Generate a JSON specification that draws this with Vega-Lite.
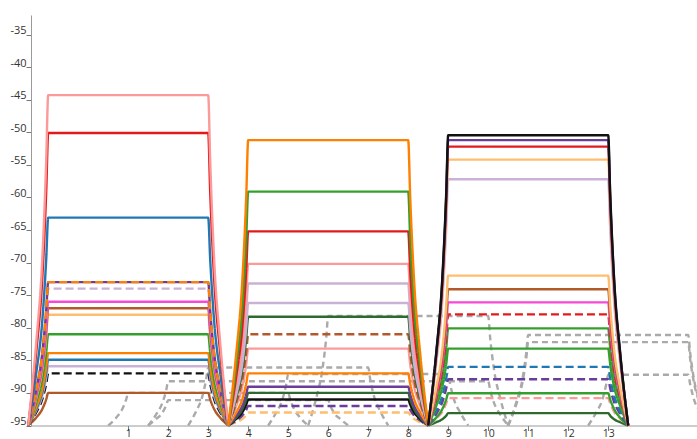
{
  "$schema": "https://vega.github.io/schema/vega-lite/v6.json",
  "width": 666,
  "height": 410.5,
  "autosize": {"type": "none"},
  "padding": {"left": 31, "top": 15, "right": 0, "bottom": 14},
  "background": "white",
  "config": {"view": {"stroke": null}, "font": "Open Sans"},
  "datasets": {
    "series": [
      {"s":"a1","k":"s"},{"s":"a2","k":"s"},{"s":"a3","k":"s"},{"s":"a4","k":"s"},{"s":"a5","k":"d"},{"s":"a6","k":"d"},{"s":"a7","k":"s"},{"s":"a8","k":"s"},{"s":"a9","k":"s"},{"s":"a10","k":"s"},{"s":"a11","k":"s"},{"s":"a12","k":"s"},{"s":"a13","k":"s"},{"s":"a14","k":"d"},{"s":"a15","k":"s"},
      {"s":"b1","k":"s"},{"s":"b2","k":"s"},{"s":"b3","k":"s"},{"s":"b4","k":"s"},{"s":"b5","k":"s"},{"s":"b6","k":"s"},{"s":"b7","k":"s"},{"s":"b8","k":"d"},{"s":"b9","k":"s"},{"s":"b10","k":"s"},{"s":"b11","k":"s"},{"s":"b12","k":"s"},{"s":"b13","k":"s"},{"s":"b14","k":"d"},{"s":"b15","k":"d"},
      {"s":"c1","k":"b"},{"s":"c2","k":"s"},{"s":"c3","k":"s"},{"s":"c4","k":"s"},{"s":"c5","k":"s"},{"s":"c6","k":"s"},{"s":"c7","k":"s"},{"s":"c8","k":"s"},{"s":"c9","k":"d"},{"s":"c10","k":"s"},{"s":"c11","k":"s"},{"s":"c12","k":"d"},{"s":"c13","k":"d"},{"s":"c14","k":"s"},{"s":"c15","k":"d"},{"s":"c16","k":"s"},
      {"s":"gA","k":"g"},{"s":"gB","k":"g"},{"s":"gC","k":"g"},{"s":"gD","k":"g"},{"s":"gE","k":"g"},{"s":"gF","k":"g"},{"s":"gG","k":"g"},{"s":"gH","k":"g"},{"s":"gI","k":"g"}
    ],
    "points": [
      {"s":"a15","x":-1.5,"y":-95},{"s":"a15","x":-1.3,"y":-93.8},{"s":"a15","x":-1.15,"y":-92.5},{"s":"a15","x":-1.05,"y":-91},{"s":"a15","x":-1,"y":-90},{"s":"a15","x":3,"y":-90},{"s":"a15","x":3.05,"y":-91},{"s":"a15","x":3.15,"y":-92.5},{"s":"a15","x":3.3,"y":-93.8},{"s":"a15","x":3.5,"y":-95},
      {"s":"a14","x":-1.5,"y":-95},{"s":"a14","x":-1.3,"y":-93},{"s":"a14","x":-1.15,"y":-91},{"s":"a14","x":-1.05,"y":-88.6},{"s":"a14","x":-1,"y":-87},{"s":"a14","x":3,"y":-87},{"s":"a14","x":3.05,"y":-88.6},{"s":"a14","x":3.15,"y":-91},{"s":"a14","x":3.3,"y":-93},{"s":"a14","x":3.5,"y":-95},
      {"s":"a13","x":-1.5,"y":-95},{"s":"a13","x":-1.3,"y":-92.7},{"s":"a13","x":-1.15,"y":-90.5},{"s":"a13","x":-1.05,"y":-87.7},{"s":"a13","x":-1,"y":-85.9},{"s":"a13","x":3,"y":-85.9},{"s":"a13","x":3.05,"y":-87.7},{"s":"a13","x":3.15,"y":-90.5},{"s":"a13","x":3.3,"y":-92.7},{"s":"a13","x":3.5,"y":-95},
      {"s":"a12","x":-1.5,"y":-95},{"s":"a12","x":-1.3,"y":-92.5},{"s":"a12","x":-1.15,"y":-90},{"s":"a12","x":-1.05,"y":-86.9},{"s":"a12","x":-1,"y":-84.9},{"s":"a12","x":3,"y":-84.9},{"s":"a12","x":3.05,"y":-86.9},{"s":"a12","x":3.15,"y":-90},{"s":"a12","x":3.3,"y":-92.5},{"s":"a12","x":3.5,"y":-95},
      {"s":"a11","x":-1.5,"y":-95},{"s":"a11","x":-1.3,"y":-92.2},{"s":"a11","x":-1.15,"y":-89.5},{"s":"a11","x":-1.05,"y":-86.1},{"s":"a11","x":-1,"y":-83.9},{"s":"a11","x":3,"y":-83.9},{"s":"a11","x":3.05,"y":-86.1},{"s":"a11","x":3.15,"y":-89.5},{"s":"a11","x":3.3,"y":-92.2},{"s":"a11","x":3.5,"y":-95},
      {"s":"a10","x":-1.5,"y":-95},{"s":"a10","x":-1.3,"y":-91.5},{"s":"a10","x":-1.15,"y":-88},{"s":"a10","x":-1.05,"y":-83.8},{"s":"a10","x":-1,"y":-81},{"s":"a10","x":3,"y":-81},{"s":"a10","x":3.05,"y":-83.8},{"s":"a10","x":3.15,"y":-88},{"s":"a10","x":3.3,"y":-91.5},{"s":"a10","x":3.5,"y":-95},
      {"s":"a9","x":-1.5,"y":-95},{"s":"a9","x":-1.3,"y":-90.8},{"s":"a9","x":-1.15,"y":-86.5},{"s":"a9","x":-1.05,"y":-81.4},{"s":"a9","x":-1,"y":-78},{"s":"a9","x":3,"y":-78},{"s":"a9","x":3.05,"y":-81.4},{"s":"a9","x":3.15,"y":-86.5},{"s":"a9","x":3.3,"y":-90.8},{"s":"a9","x":3.5,"y":-95},
      {"s":"a8","x":-1.5,"y":-95},{"s":"a8","x":-1.3,"y":-90.5},{"s":"a8","x":-1.15,"y":-86},{"s":"a8","x":-1.05,"y":-80.6},{"s":"a8","x":-1,"y":-77},{"s":"a8","x":3,"y":-77},{"s":"a8","x":3.05,"y":-80.6},{"s":"a8","x":3.15,"y":-86},{"s":"a8","x":3.3,"y":-90.5},{"s":"a8","x":3.5,"y":-95},
      {"s":"a7","x":-1.5,"y":-95},{"s":"a7","x":-1.3,"y":-90.3},{"s":"a7","x":-1.15,"y":-85.5},{"s":"a7","x":-1.05,"y":-79.8},{"s":"a7","x":-1,"y":-76},{"s":"a7","x":3,"y":-76},{"s":"a7","x":3.05,"y":-79.8},{"s":"a7","x":3.15,"y":-85.5},{"s":"a7","x":3.3,"y":-90.3},{"s":"a7","x":3.5,"y":-95},
      {"s":"a6","x":-1.5,"y":-95},{"s":"a6","x":-1.3,"y":-89.8},{"s":"a6","x":-1.15,"y":-84.5},{"s":"a6","x":-1.05,"y":-78.2},{"s":"a6","x":-1,"y":-74},{"s":"a6","x":3,"y":-74},{"s":"a6","x":3.05,"y":-78.2},{"s":"a6","x":3.15,"y":-84.5},{"s":"a6","x":3.3,"y":-89.8},{"s":"a6","x":3.5,"y":-95},
      {"s":"a4","x":-1.5,"y":-95},{"s":"a4","x":-1.3,"y":-89.5},{"s":"a4","x":-1.15,"y":-84},{"s":"a4","x":-1.05,"y":-77.4},{"s":"a4","x":-1,"y":-73},{"s":"a4","x":3,"y":-73},{"s":"a4","x":3.05,"y":-77.4},{"s":"a4","x":3.15,"y":-84},{"s":"a4","x":3.3,"y":-89.5},{"s":"a4","x":3.5,"y":-95},
      {"s":"a5","x":-1.5,"y":-95},{"s":"a5","x":-1.3,"y":-89.5},{"s":"a5","x":-1.15,"y":-84},{"s":"a5","x":-1.05,"y":-77.4},{"s":"a5","x":-1,"y":-73},{"s":"a5","x":3,"y":-73},{"s":"a5","x":3.05,"y":-77.4},{"s":"a5","x":3.15,"y":-84},{"s":"a5","x":3.3,"y":-89.5},{"s":"a5","x":3.5,"y":-95},
      {"s":"a3","x":-1.5,"y":-95},{"s":"a3","x":-1.3,"y":-87},{"s":"a3","x":-1.15,"y":-79.1},{"s":"a3","x":-1.05,"y":-69.5},{"s":"a3","x":-1,"y":-63.1},{"s":"a3","x":3,"y":-63.1},{"s":"a3","x":3.05,"y":-69.5},{"s":"a3","x":3.15,"y":-79.1},{"s":"a3","x":3.3,"y":-87},{"s":"a3","x":3.5,"y":-95},
      {"s":"a2","x":-1.5,"y":-95},{"s":"a2","x":-1.3,"y":-83.8},{"s":"a2","x":-1.15,"y":-72.6},{"s":"a2","x":-1.05,"y":-59.1},{"s":"a2","x":-1,"y":-50.1},{"s":"a2","x":3,"y":-50.1},{"s":"a2","x":3.05,"y":-59.1},{"s":"a2","x":3.15,"y":-72.6},{"s":"a2","x":3.3,"y":-83.8},{"s":"a2","x":3.5,"y":-95},
      {"s":"a1","x":-1.5,"y":-95},{"s":"a1","x":-1.3,"y":-82.3},{"s":"a1","x":-1.15,"y":-69.7},{"s":"a1","x":-1.05,"y":-54.4},{"s":"a1","x":-1,"y":-44.3},{"s":"a1","x":3,"y":-44.3},{"s":"a1","x":3.05,"y":-54.4},{"s":"a1","x":3.15,"y":-69.7},{"s":"a1","x":3.3,"y":-82.3},{"s":"a1","x":3.5,"y":-95},

      {"s":"b15","x":3.5,"y":-95},{"s":"b15","x":3.7,"y":-94.5},{"s":"b15","x":3.85,"y":-94},{"s":"b15","x":3.95,"y":-93.4},{"s":"b15","x":4,"y":-93},{"s":"b15","x":8,"y":-93},{"s":"b15","x":8.05,"y":-93.4},{"s":"b15","x":8.15,"y":-94},{"s":"b15","x":8.3,"y":-94.5},{"s":"b15","x":8.5,"y":-95},
      {"s":"b14","x":3.5,"y":-95},{"s":"b14","x":3.7,"y":-94.25},{"s":"b14","x":3.85,"y":-93.5},{"s":"b14","x":3.95,"y":-92.6},{"s":"b14","x":4,"y":-92},{"s":"b14","x":8,"y":-92},{"s":"b14","x":8.05,"y":-92.6},{"s":"b14","x":8.15,"y":-93.5},{"s":"b14","x":8.3,"y":-94.25},{"s":"b14","x":8.5,"y":-95},
      {"s":"b13","x":3.5,"y":-95},{"s":"b13","x":3.7,"y":-94},{"s":"b13","x":3.85,"y":-93},{"s":"b13","x":3.95,"y":-91.8},{"s":"b13","x":4,"y":-91},{"s":"b13","x":8,"y":-91},{"s":"b13","x":8.05,"y":-91.8},{"s":"b13","x":8.15,"y":-93},{"s":"b13","x":8.3,"y":-94},{"s":"b13","x":8.5,"y":-95},
      {"s":"b12","x":3.5,"y":-95},{"s":"b12","x":3.7,"y":-93.8},{"s":"b12","x":3.85,"y":-92.5},{"s":"b12","x":3.95,"y":-91},{"s":"b12","x":4,"y":-90},{"s":"b12","x":8,"y":-90},{"s":"b12","x":8.05,"y":-91},{"s":"b12","x":8.15,"y":-92.5},{"s":"b12","x":8.3,"y":-93.8},{"s":"b12","x":8.5,"y":-95},
      {"s":"b11","x":3.5,"y":-95},{"s":"b11","x":3.7,"y":-93.5},{"s":"b11","x":3.85,"y":-92},{"s":"b11","x":3.95,"y":-90.2},{"s":"b11","x":4,"y":-89.05},{"s":"b11","x":8,"y":-89.05},{"s":"b11","x":8.05,"y":-90.2},{"s":"b11","x":8.15,"y":-92},{"s":"b11","x":8.3,"y":-93.5},{"s":"b11","x":8.5,"y":-95},
      {"s":"b10","x":3.5,"y":-95},{"s":"b10","x":3.7,"y":-93},{"s":"b10","x":3.85,"y":-91},{"s":"b10","x":3.95,"y":-88.6},{"s":"b10","x":4,"y":-87},{"s":"b10","x":8,"y":-87},{"s":"b10","x":8.05,"y":-88.6},{"s":"b10","x":8.15,"y":-91},{"s":"b10","x":8.3,"y":-93},{"s":"b10","x":8.5,"y":-95},
      {"s":"b9","x":3.5,"y":-95},{"s":"b9","x":3.7,"y":-92},{"s":"b9","x":3.85,"y":-89.1},{"s":"b9","x":3.95,"y":-85.6},{"s":"b9","x":4,"y":-83.2},{"s":"b9","x":8,"y":-83.2},{"s":"b9","x":8.05,"y":-85.6},{"s":"b9","x":8.15,"y":-89.1},{"s":"b9","x":8.3,"y":-92},{"s":"b9","x":8.5,"y":-95},
      {"s":"b8","x":3.5,"y":-95},{"s":"b8","x":3.7,"y":-91.5},{"s":"b8","x":3.85,"y":-88},{"s":"b8","x":3.95,"y":-83.8},{"s":"b8","x":4,"y":-81},{"s":"b8","x":8,"y":-81},{"s":"b8","x":8.05,"y":-83.8},{"s":"b8","x":8.15,"y":-88},{"s":"b8","x":8.3,"y":-91.5},{"s":"b8","x":8.5,"y":-95},
      {"s":"b7","x":3.5,"y":-95},{"s":"b7","x":3.7,"y":-90.8},{"s":"b7","x":3.85,"y":-86.6},{"s":"b7","x":3.95,"y":-81.6},{"s":"b7","x":4,"y":-78.3},{"s":"b7","x":8,"y":-78.3},{"s":"b7","x":8.05,"y":-81.6},{"s":"b7","x":8.15,"y":-86.6},{"s":"b7","x":8.3,"y":-90.8},{"s":"b7","x":8.5,"y":-95},
      {"s":"b6","x":3.5,"y":-95},{"s":"b6","x":3.7,"y":-90.3},{"s":"b6","x":3.85,"y":-85.6},{"s":"b6","x":3.95,"y":-80},{"s":"b6","x":4,"y":-76.2},{"s":"b6","x":8,"y":-76.2},{"s":"b6","x":8.05,"y":-80},{"s":"b6","x":8.15,"y":-85.6},{"s":"b6","x":8.3,"y":-90.3},{"s":"b6","x":8.5,"y":-95},
      {"s":"b5","x":3.5,"y":-95},{"s":"b5","x":3.7,"y":-89.5},{"s":"b5","x":3.85,"y":-84.1},{"s":"b5","x":3.95,"y":-77.6},{"s":"b5","x":4,"y":-73.2},{"s":"b5","x":8,"y":-73.2},{"s":"b5","x":8.05,"y":-77.6},{"s":"b5","x":8.15,"y":-84.1},{"s":"b5","x":8.3,"y":-89.5},{"s":"b5","x":8.5,"y":-95},
      {"s":"b4","x":3.5,"y":-95},{"s":"b4","x":3.7,"y":-88.8},{"s":"b4","x":3.85,"y":-82.6},{"s":"b4","x":3.95,"y":-75.2},{"s":"b4","x":4,"y":-70.2},{"s":"b4","x":8,"y":-70.2},{"s":"b4","x":8.05,"y":-75.2},{"s":"b4","x":8.15,"y":-82.6},{"s":"b4","x":8.3,"y":-88.8},{"s":"b4","x":8.5,"y":-95},
      {"s":"b3","x":3.5,"y":-95},{"s":"b3","x":3.7,"y":-87.5},{"s":"b3","x":3.85,"y":-80.1},{"s":"b3","x":3.95,"y":-71.2},{"s":"b3","x":4,"y":-65.2},{"s":"b3","x":8,"y":-65.2},{"s":"b3","x":8.05,"y":-71.2},{"s":"b3","x":8.15,"y":-80.1},{"s":"b3","x":8.3,"y":-87.5},{"s":"b3","x":8.5,"y":-95},
      {"s":"b2","x":3.5,"y":-95},{"s":"b2","x":3.7,"y":-86},{"s":"b2","x":3.85,"y":-77},{"s":"b2","x":3.95,"y":-66.3},{"s":"b2","x":4,"y":-59.1},{"s":"b2","x":8,"y":-59.1},{"s":"b2","x":8.05,"y":-66.3},{"s":"b2","x":8.15,"y":-77},{"s":"b2","x":8.3,"y":-86},{"s":"b2","x":8.5,"y":-95},
      {"s":"b1","x":3.5,"y":-95},{"s":"b1","x":3.7,"y":-84},{"s":"b1","x":3.85,"y":-73.1},{"s":"b1","x":3.95,"y":-60},{"s":"b1","x":4,"y":-51.2},{"s":"b1","x":8,"y":-51.2},{"s":"b1","x":8.05,"y":-60},{"s":"b1","x":8.15,"y":-73.1},{"s":"b1","x":8.3,"y":-84},{"s":"b1","x":8.5,"y":-95},

      {"s":"c16","x":8.5,"y":-95},{"s":"c16","x":8.7,"y":-94.5},{"s":"c16","x":8.85,"y":-94.05},{"s":"c16","x":8.95,"y":-93.5},{"s":"c16","x":9,"y":-93.1},{"s":"c16","x":13,"y":-93.1},{"s":"c16","x":13.05,"y":-93.5},{"s":"c16","x":13.15,"y":-94.05},{"s":"c16","x":13.3,"y":-94.5},{"s":"c16","x":13.5,"y":-95},
      {"s":"c15","x":8.5,"y":-95},{"s":"c15","x":8.7,"y":-93.95},{"s":"c15","x":8.85,"y":-92.9},{"s":"c15","x":8.95,"y":-91.6},{"s":"c15","x":9,"y":-90.8},{"s":"c15","x":13,"y":-90.8},{"s":"c15","x":13.05,"y":-91.6},{"s":"c15","x":13.15,"y":-92.9},{"s":"c15","x":13.3,"y":-93.95},{"s":"c15","x":13.5,"y":-95},
      {"s":"c14","x":8.5,"y":-95},{"s":"c14","x":8.7,"y":-93.8},{"s":"c14","x":8.85,"y":-92.5},{"s":"c14","x":8.95,"y":-91},{"s":"c14","x":9,"y":-90.05},{"s":"c14","x":13,"y":-90.05},{"s":"c14","x":13.05,"y":-91},{"s":"c14","x":13.15,"y":-92.5},{"s":"c14","x":13.3,"y":-93.8},{"s":"c14","x":13.5,"y":-95},
      {"s":"c13","x":8.5,"y":-95},{"s":"c13","x":8.7,"y":-93.2},{"s":"c13","x":8.85,"y":-91.45},{"s":"c13","x":8.95,"y":-89.3},{"s":"c13","x":9,"y":-87.9},{"s":"c13","x":13,"y":-87.9},{"s":"c13","x":13.05,"y":-89.3},{"s":"c13","x":13.15,"y":-91.45},{"s":"c13","x":13.3,"y":-93.2},{"s":"c13","x":13.5,"y":-95},
      {"s":"c12","x":8.5,"y":-95},{"s":"c12","x":8.7,"y":-92.75},{"s":"c12","x":8.85,"y":-90.5},{"s":"c12","x":8.95,"y":-87.8},{"s":"c12","x":9,"y":-86},{"s":"c12","x":13,"y":-86},{"s":"c12","x":13.05,"y":-87.8},{"s":"c12","x":13.15,"y":-90.5},{"s":"c12","x":13.3,"y":-92.75},{"s":"c12","x":13.5,"y":-95},
      {"s":"c11","x":8.5,"y":-95},{"s":"c11","x":8.7,"y":-92},{"s":"c11","x":8.85,"y":-89.1},{"s":"c11","x":8.95,"y":-85.6},{"s":"c11","x":9,"y":-83.2},{"s":"c11","x":13,"y":-83.2},{"s":"c11","x":13.05,"y":-85.6},{"s":"c11","x":13.15,"y":-89.1},{"s":"c11","x":13.3,"y":-92},{"s":"c11","x":13.5,"y":-95},
      {"s":"c10","x":8.5,"y":-95},{"s":"c10","x":8.7,"y":-91.3},{"s":"c10","x":8.85,"y":-87.55},{"s":"c10","x":8.95,"y":-83.1},{"s":"c10","x":9,"y":-80.1},{"s":"c10","x":13,"y":-80.1},{"s":"c10","x":13.05,"y":-83.1},{"s":"c10","x":13.15,"y":-87.55},{"s":"c10","x":13.3,"y":-91.3},{"s":"c10","x":13.5,"y":-95},
      {"s":"c9","x":8.5,"y":-95},{"s":"c9","x":8.7,"y":-90.75},{"s":"c9","x":8.85,"y":-86.5},{"s":"c9","x":8.95,"y":-81.4},{"s":"c9","x":9,"y":-77.95},{"s":"c9","x":13,"y":-77.95},{"s":"c9","x":13.05,"y":-81.4},{"s":"c9","x":13.15,"y":-86.5},{"s":"c9","x":13.3,"y":-90.75},{"s":"c9","x":13.5,"y":-95},
      {"s":"c8","x":8.5,"y":-95},{"s":"c8","x":8.7,"y":-90.3},{"s":"c8","x":8.85,"y":-85.55},{"s":"c8","x":8.95,"y":-79.9},{"s":"c8","x":9,"y":-76.1},{"s":"c8","x":13,"y":-76.1},{"s":"c8","x":13.05,"y":-79.9},{"s":"c8","x":13.15,"y":-85.55},{"s":"c8","x":13.3,"y":-90.3},{"s":"c8","x":13.5,"y":-95},
      {"s":"c7","x":8.5,"y":-95},{"s":"c7","x":8.7,"y":-89.8},{"s":"c7","x":8.85,"y":-84.55},{"s":"c7","x":8.95,"y":-78.3},{"s":"c7","x":9,"y":-74.1},{"s":"c7","x":13,"y":-74.1},{"s":"c7","x":13.05,"y":-78.3},{"s":"c7","x":13.15,"y":-84.55},{"s":"c7","x":13.3,"y":-89.8},{"s":"c7","x":13.5,"y":-95},
      {"s":"c6","x":8.5,"y":-95},{"s":"c6","x":8.7,"y":-89.25},{"s":"c6","x":8.85,"y":-83.5},{"s":"c6","x":8.95,"y":-76.6},{"s":"c6","x":9,"y":-72},{"s":"c6","x":13,"y":-72},{"s":"c6","x":13.05,"y":-76.6},{"s":"c6","x":13.15,"y":-83.5},{"s":"c6","x":13.3,"y":-89.25},{"s":"c6","x":13.5,"y":-95},
      {"s":"c5","x":8.5,"y":-95},{"s":"c5","x":8.7,"y":-85.55},{"s":"c5","x":8.85,"y":-76.1},{"s":"c5","x":8.95,"y":-64.8},{"s":"c5","x":9,"y":-57.2},{"s":"c5","x":13,"y":-57.2},{"s":"c5","x":13.05,"y":-64.8},{"s":"c5","x":13.15,"y":-76.1},{"s":"c5","x":13.3,"y":-85.55},{"s":"c5","x":13.5,"y":-95},
      {"s":"c4","x":8.5,"y":-95},{"s":"c4","x":8.7,"y":-84.8},{"s":"c4","x":8.85,"y":-74.6},{"s":"c4","x":8.95,"y":-62.4},{"s":"c4","x":9,"y":-54.2},{"s":"c4","x":13,"y":-54.2},{"s":"c4","x":13.05,"y":-62.4},{"s":"c4","x":13.15,"y":-74.6},{"s":"c4","x":13.3,"y":-84.8},{"s":"c4","x":13.5,"y":-95},
      {"s":"c3","x":8.5,"y":-95},{"s":"c3","x":8.7,"y":-84.3},{"s":"c3","x":8.85,"y":-73.6},{"s":"c3","x":8.95,"y":-60.8},{"s":"c3","x":9,"y":-52.2},{"s":"c3","x":13,"y":-52.2},{"s":"c3","x":13.05,"y":-60.8},{"s":"c3","x":13.15,"y":-73.6},{"s":"c3","x":13.3,"y":-84.3},{"s":"c3","x":13.5,"y":-95},
      {"s":"c2","x":8.5,"y":-95},{"s":"c2","x":8.7,"y":-84.05},{"s":"c2","x":8.85,"y":-73.1},{"s":"c2","x":8.95,"y":-60},{"s":"c2","x":9,"y":-51.2},{"s":"c2","x":13,"y":-51.2},{"s":"c2","x":13.05,"y":-60},{"s":"c2","x":13.15,"y":-73.1},{"s":"c2","x":13.3,"y":-84.05},{"s":"c2","x":13.5,"y":-95},
      {"s":"c1","x":8.5,"y":-95},{"s":"c1","x":8.7,"y":-83.9},{"s":"c1","x":8.85,"y":-72.7},{"s":"c1","x":8.95,"y":-59.4},{"s":"c1","x":9,"y":-50.45},{"s":"c1","x":13,"y":-50.45},{"s":"c1","x":13.05,"y":-59.4},{"s":"c1","x":13.15,"y":-72.7},{"s":"c1","x":13.3,"y":-83.9},{"s":"c1","x":13.5,"y":-95},

      {"s":"gA","x":0.5,"y":-95},{"s":"gA","x":0.7,"y":-93.8},{"s":"gA","x":0.85,"y":-92.5},{"s":"gA","x":0.95,"y":-91},{"s":"gA","x":1,"y":-90},{"s":"gA","x":5,"y":-90},{"s":"gA","x":5.05,"y":-91},{"s":"gA","x":5.15,"y":-92.5},{"s":"gA","x":5.3,"y":-93.8},{"s":"gA","x":5.5,"y":-95},
      {"s":"gB","x":1.5,"y":-95},{"s":"gB","x":1.7,"y":-93.3},{"s":"gB","x":1.85,"y":-91.6},{"s":"gB","x":1.95,"y":-89.6},{"s":"gB","x":2,"y":-88.2},{"s":"gB","x":10,"y":-88.2},{"s":"gB","x":10.05,"y":-89.6},{"s":"gB","x":10.15,"y":-91.6},{"s":"gB","x":10.3,"y":-93.3},{"s":"gB","x":10.5,"y":-95},
      {"s":"gC","x":1.5,"y":-95},{"s":"gC","x":1.7,"y":-94},{"s":"gC","x":1.85,"y":-93.1},{"s":"gC","x":1.95,"y":-91.9},{"s":"gC","x":2,"y":-91.1},{"s":"gC","x":6,"y":-91.1},{"s":"gC","x":6.05,"y":-91.9},{"s":"gC","x":6.15,"y":-93.1},{"s":"gC","x":6.3,"y":-94},{"s":"gC","x":6.5,"y":-95},
      {"s":"gD","x":2.5,"y":-95},{"s":"gD","x":2.7,"y":-92.8},{"s":"gD","x":2.85,"y":-90.6},{"s":"gD","x":2.95,"y":-87.9},{"s":"gD","x":3,"y":-86.1},{"s":"gD","x":7,"y":-86.1},{"s":"gD","x":7.05,"y":-87.9},{"s":"gD","x":7.15,"y":-90.6},{"s":"gD","x":7.3,"y":-92.8},{"s":"gD","x":7.5,"y":-95},
      {"s":"gE","x":5.5,"y":-95},{"s":"gE","x":5.7,"y":-90.8},{"s":"gE","x":5.85,"y":-86.6},{"s":"gE","x":5.95,"y":-81.6},{"s":"gE","x":6,"y":-78.2},{"s":"gE","x":10,"y":-78.2},{"s":"gE","x":10.05,"y":-81.6},{"s":"gE","x":10.15,"y":-86.6},{"s":"gE","x":10.3,"y":-90.8},{"s":"gE","x":10.5,"y":-95},
      {"s":"gF","x":10.5,"y":-95},{"s":"gF","x":10.7,"y":-91.5},{"s":"gF","x":10.85,"y":-88.1},{"s":"gF","x":10.95,"y":-83.9},{"s":"gF","x":11,"y":-81.1},{"s":"gF","x":15,"y":-81.1},{"s":"gF","x":15.05,"y":-83.9},{"s":"gF","x":15.15,"y":-88.1},{"s":"gF","x":15.3,"y":-91.5},{"s":"gF","x":15.5,"y":-95},
      {"s":"gG","x":10.5,"y":-95},{"s":"gG","x":10.7,"y":-91.8},{"s":"gG","x":10.85,"y":-88.6},{"s":"gG","x":10.95,"y":-84.8},{"s":"gG","x":11,"y":-82.2},{"s":"gG","x":15,"y":-82.2},{"s":"gG","x":15.05,"y":-84.8},{"s":"gG","x":15.15,"y":-88.6},{"s":"gG","x":15.3,"y":-91.8},{"s":"gG","x":15.5,"y":-95},
      {"s":"gH","x":4.5,"y":-95},{"s":"gH","x":4.7,"y":-93},{"s":"gH","x":4.85,"y":-91.1},{"s":"gH","x":4.95,"y":-88.7},{"s":"gH","x":5,"y":-87.1},{"s":"gH","x":9,"y":-87.1},{"s":"gH","x":9.05,"y":-88.7},{"s":"gH","x":9.15,"y":-91.1},{"s":"gH","x":9.3,"y":-93},{"s":"gH","x":9.5,"y":-95},
      {"s":"gI","x":12.5,"y":-95},{"s":"gI","x":12.7,"y":-93},{"s":"gI","x":12.85,"y":-91.1},{"s":"gI","x":12.95,"y":-88.7},{"s":"gI","x":13,"y":-87.2},{"s":"gI","x":15,"y":-87.2},{"s":"gI","x":15.05,"y":-88.7},{"s":"gI","x":15.15,"y":-91.1},{"s":"gI","x":15.3,"y":-93},{"s":"gI","x":15.5,"y":-95}
    ]
  },
  "data": {"name": "points"},
  "transform": [
    {"lookup": "s", "from": {"data": {"name": "series"}, "key": "s", "fields": ["k"]}}
  ],
  "encoding": {
    "x": {
      "field": "x", "type": "quantitative",
      "scale": {"domain": [-1.43, 15.22], "nice": false, "zero": false},
      "axis": {
        "values": [1,2,3,4,5,6,7,8,9,10,11,12,13],
        "title": null, "grid": false,
        "domainColor": "#9a9a9a", "tickColor": "#777", "tickSize": 5,
        "labelBaseline": "alphabetic", "labelPadding": 5.5,
        "labelColor": "#333", "labelFont": "Open Sans", "labelFontSize": 10.5
      }
    },
    "y": {
      "field": "y", "type": "quantitative",
      "scale": {"domain": [-95, -32], "nice": false, "zero": false},
      "axis": {
        "values": [-95,-90,-85,-80,-75,-70,-65,-60,-55,-50,-45,-40,-35],
        "title": null, "grid": false,
        "domainColor": "#9a9a9a", "tickColor": "#777", "tickSize": 5,
        "labelPadding": 0, "labelBaseline": "alphabetic", "labelOffset": -1,
        "labelColor": "#333", "labelFont": "Open Sans", "labelFontSize": 11,
        "labelExpr": "datum.value < 0 ? '-' + (-datum.value) : '' + datum.value"
      }
    },
    "detail": {"field": "s", "type": "nominal"},
    "color": {
      "field": "s", "type": "nominal", "legend": null,
      "scale": {
        "domain": ["a1","a2","a3","a4","a5","a6","a7","a8","a9","a10","a11","a12","a13","a14","a15","b1","b2","b3","b4","b5","b6","b7","b8","b9","b10","b11","b12","b13","b14","b15","c1","c2","c3","c4","c5","c6","c7","c8","c9","c10","c11","c12","c13","c14","c15","c16","gA","gB","gC","gD","gE","gF","gG","gH","gI"],
        "range": ["#fb9a99","#e31a1c","#1f78b4","#6a3d9a","#ff7f00","#cab2d6","#f549d6","#b15928","#fdbf6f","#33a02c","#ff7f00","#1f78b4","#cab2d6","#111111","#b15928",
                  "#ff7f00","#33a02c","#e31a1c","#fb9a99","#cab2d6","#cab2d6","#2e6a2e","#b15928","#fb9a99","#ff7f00","#6a3d9a","#2e6a2e","#111111","#6a3d9a","#fdbf6f",
                  "#111111","#6a3d9a","#e31a1c","#fdbf6f","#cab2d6","#fdbf6f","#b15928","#f549d6","#e31a1c","#33a02c","#33a02c","#1f78b4","#6a3d9a","#33a02c","#fb9a99","#2e6a2e",
                  "#aaaaaa","#aaaaaa","#aaaaaa","#aaaaaa","#aaaaaa","#aaaaaa","#aaaaaa","#aaaaaa","#aaaaaa"]
      }
    },
    "strokeDash": {
      "field": "k", "type": "nominal", "legend": null,
      "scale": {"domain": ["s","d","g","b"], "range": [[1,0],[8,4],[6,4],[1,0]]}
    },
    "strokeWidth": {
      "field": "k", "type": "nominal", "legend": null,
      "scale": {"domain": ["s","d","g","b"], "range": [2.4,2.4,1.2,3]}
    }
  },
  "layer": [
    {"transform": [{"filter": "datum.k == 'g'"}], "mark": {"type": "line", "interpolate": "monotone", "strokeCap": "butt", "strokeJoin": "round"}},
    {"transform": [{"filter": "datum.k == 's' || datum.k == 'd'"}], "mark": {"type": "line", "interpolate": "monotone", "strokeCap": "butt", "strokeJoin": "round"}},
    {"transform": [{"filter": "datum.k == 'b'"}], "mark": {"type": "line", "interpolate": "monotone", "strokeCap": "butt", "strokeJoin": "round"}}
  ]
}
